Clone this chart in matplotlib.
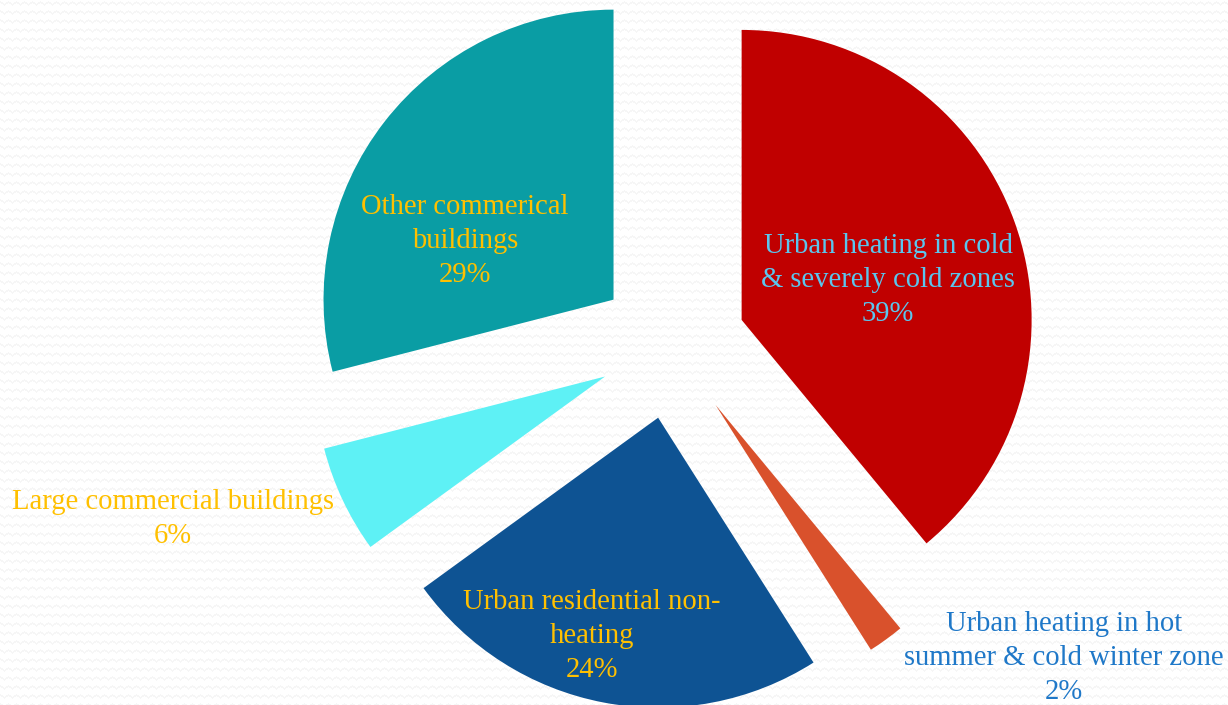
import numpy as np
import matplotlib.pyplot as plt

# Building energy use shares
categories = [
    "Urban heating in cold\n& severely cold zones",
    "Urban heating in hot\nsummer & cold winter zone",
    "Urban residential non-\nheating",
    "Large commercial buildings",
    "Other commerical\nbuildings",
]
shares = [39, 2, 24, 6, 29]

slice_colors = ["#C00000", "#D9512C", "#0E5393", "#5EF1F5", "#0A9DA4"]
text_colors = ["#5BC6EE", "#1F78C8", "#FFC000", "#FFC000", "#FFC000"]

# label anchor points in pixel space (x, y measured from the top)
label_pos = [(888, 280), (1064, 658), (592, 636), (173, 519), (465, 241)]

W, H = 1228, 705
fig = plt.figure(figsize=(W / 100, H / 100), dpi=100)
ax = fig.add_axes([0, 0, 1, 1])

# faint zigzag texture on the background
yy, xx = np.mgrid[0:H, 0:W]
tri = np.abs(((xx % 8) - 4)) / 1.3
band = np.abs(((yy + tri) % 9) - 4.5) < 1.0
bg = np.where(band, 0.965, 1.0)
ax.imshow(np.dstack([bg, bg, bg]), extent=(0, W, 0, H), origin="upper",
          interpolation="bilinear", zorder=0)

wedges, _ = ax.pie(shares, colors=slice_colors, startangle=90,
                   counterclock=False, explode=[74] * len(shares),
                   radius=290, center=(672, H - 345), frame=True,
                   wedgeprops=dict(linewidth=0, zorder=2))

for cat, val, col, (px, py) in zip(categories, shares, text_colors, label_pos):
    ax.text(px, H - py, f"{cat}\n{val}%", ha="center", va="center",
            color=col, fontsize=20.6, family="Liberation Serif",
            linespacing=1.38, zorder=3)

ax.set_xlim(0, W)
ax.set_ylim(0, H)
ax.set_aspect("auto")
ax.axis("off")

fig.savefig("out.png", dpi=100)
